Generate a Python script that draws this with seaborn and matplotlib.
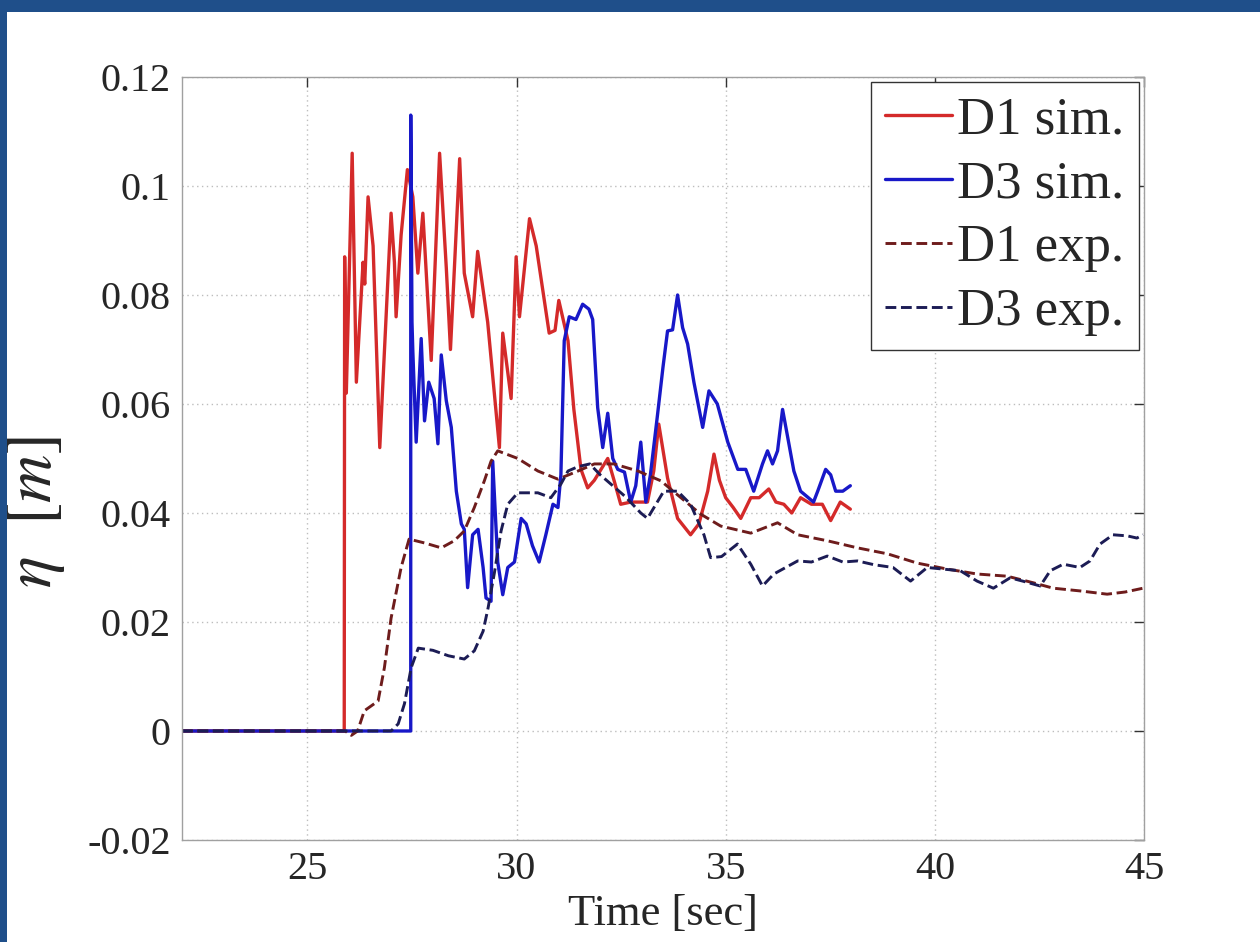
import matplotlib
matplotlib.use("Agg")
import matplotlib.pyplot as plt
import seaborn as sns
import numpy as np
from matplotlib.patches import Rectangle

# ---------------- data ----------------
d1_sim_t = [22.0, 25.88, 25.89, 25.93, 26.07, 26.17, 26.33, 26.37, 26.45, 26.57, 26.73, 27.00, 27.08,
            27.12, 27.24, 27.39, 27.52, 27.64, 27.76, 27.96, 28.16, 28.32, 28.42, 28.64, 28.75, 28.95,
            29.07, 29.31, 29.59, 29.67, 29.87, 29.99, 30.07, 30.31, 30.47, 30.78, 30.92, 31.01, 31.23,
            31.37, 31.54, 31.70, 31.86, 32.02, 32.18, 32.33, 32.49, 32.73, 32.97, 33.13, 33.28, 33.40,
            33.61, 33.85, 34.16, 34.36, 34.57, 34.72, 34.85, 35.00, 35.18, 35.36, 35.60, 35.80, 36.03,
            36.20, 36.39, 36.58, 36.79, 37.05, 37.31, 37.51, 37.74, 37.98]
d1_sim_eta = [0, 0, 0.087, 0.062, 0.106, 0.064, 0.086, 0.082, 0.098, 0.089, 0.052, 0.095, 0.086,
              0.076, 0.091, 0.103, 0.098, 0.084, 0.095, 0.068, 0.106, 0.085, 0.070, 0.105, 0.084, 0.076,
              0.088, 0.075, 0.052, 0.073, 0.061, 0.087, 0.076, 0.094, 0.089, 0.073, 0.0735, 0.079, 0.0716,
              0.059, 0.048, 0.0446, 0.046, 0.048, 0.050, 0.046, 0.0416, 0.042, 0.042, 0.042, 0.0477, 0.0563,
              0.0464, 0.039, 0.036, 0.038, 0.044, 0.0508, 0.046, 0.0428, 0.041, 0.039, 0.0428, 0.0428, 0.0444,
              0.042, 0.0416, 0.040, 0.0428, 0.0416, 0.0416, 0.0386, 0.042, 0.0407]

d3_sim_t = [22.0, 27.47, 27.47, 27.50, 27.52, 27.60, 27.72, 27.80, 27.90, 28.03, 28.12, 28.20, 28.32,
            28.44, 28.56, 28.68, 28.75, 28.83, 28.95, 29.08, 29.20, 29.27, 29.39, 29.43, 29.55, 29.67,
            29.79, 29.95, 30.11, 30.23, 30.38, 30.54, 30.70, 30.87, 30.99, 31.06, 31.14, 31.26, 31.42,
            31.58, 31.73, 31.82, 31.94, 32.06, 32.18, 32.30, 32.42, 32.58, 32.73, 32.85, 32.97, 33.09,
            33.20, 33.37, 33.50, 33.61, 33.73, 33.85, 33.97, 34.09, 34.24, 34.45, 34.60, 34.80, 35.05,
            35.29, 35.48, 35.67, 35.88, 36.00, 36.12, 36.24, 36.36, 36.48, 36.63, 36.79, 37.10, 37.20,
            37.39, 37.51, 37.63, 37.80, 37.98]
d3_sim_eta = [0, 0, 0.113, 0.075, 0.0697, 0.053, 0.072, 0.0569, 0.064, 0.061, 0.0527, 0.069, 0.0606,
              0.0557, 0.044, 0.038, 0.037, 0.0263, 0.036, 0.037, 0.030, 0.0244, 0.0238, 0.0495, 0.031, 0.025,
              0.030, 0.031, 0.039, 0.038, 0.034, 0.031, 0.036, 0.0416, 0.041, 0.047, 0.0716, 0.076, 0.0755,
              0.0783, 0.0774, 0.0755, 0.0593, 0.052, 0.0583, 0.050, 0.048, 0.0475, 0.042, 0.045, 0.053, 0.042,
              0.047, 0.058, 0.0667, 0.0734, 0.0736, 0.080, 0.074, 0.071, 0.064, 0.0557, 0.0624, 0.060, 0.053,
              0.048, 0.048, 0.044, 0.049, 0.0514, 0.049, 0.0514, 0.059, 0.054, 0.0477, 0.044, 0.042, 0.044,
              0.048, 0.047, 0.044, 0.044, 0.045]

d1_exp_t = [22.0, 25.9, 26.05, 26.2, 26.36, 26.69, 26.84, 27.0, 27.24, 27.43, 27.8, 28.2, 28.51, 28.75,
            28.99, 29.23, 29.39, 29.55, 30.03, 30.51, 30.99, 31.47, 31.86, 32.33, 32.90, 33.45, 33.93,
            34.40, 34.88, 35.60, 36.24, 36.72, 37.43, 38.15, 38.87, 39.58, 40.30, 41.01, 41.73, 42.35,
            42.83, 43.47, 44.12, 44.55, 44.98]
d1_exp_eta = [0, 0, -0.0008, 0, 0.0037, 0.0055, 0.0116, 0.0207, 0.030, 0.0352, 0.0345, 0.0336, 0.0349,
              0.0367, 0.041, 0.0459, 0.0495, 0.0514, 0.050, 0.0477, 0.0462, 0.0477, 0.049, 0.049, 0.0477,
              0.0459, 0.0428, 0.0398, 0.0376, 0.0363, 0.0382, 0.036, 0.0349, 0.0336, 0.0325, 0.0308, 0.0297,
              0.0288, 0.0284, 0.0272, 0.0262, 0.0257, 0.0251, 0.0255, 0.0262]

d3_exp_t = [22.0, 27.0, 27.17, 27.32, 27.48, 27.65, 28.0, 28.37, 28.75, 28.99, 29.20, 29.32, 29.47, 29.63,
            29.79, 30.03, 30.51, 30.82, 31.06, 31.23, 31.47, 31.75, 32.0, 32.3, 32.6, 32.97, 33.13, 33.52,
            33.85, 34.16, 34.48, 34.64, 34.90, 35.28, 35.60, 35.88, 36.15, 36.72, 37.05, 37.43, 37.80,
            38.15, 38.55, 39.0, 39.42, 39.82, 40.2, 40.61, 41.01, 41.40, 41.80, 42.1, 42.52, 42.76, 43.07,
            43.47, 43.71, 43.95, 44.26, 44.6, 44.83, 44.98]
d3_exp_eta = [0, 0, 0.0013, 0.005, 0.0116, 0.0152, 0.0148, 0.0138, 0.0132, 0.0147, 0.0183, 0.0226, 0.029,
              0.0367, 0.0416, 0.0437, 0.0437, 0.0428, 0.0453, 0.0477, 0.0485, 0.049, 0.047, 0.045, 0.043,
              0.040, 0.039, 0.044, 0.044, 0.0416, 0.036, 0.0318, 0.032, 0.0343, 0.0306, 0.0266, 0.0288,
              0.0312, 0.031, 0.0321, 0.031, 0.0312, 0.0305, 0.030, 0.0275, 0.030, 0.0297, 0.0294, 0.0275,
              0.0262, 0.0281, 0.0275, 0.0266, 0.0294, 0.0306, 0.030, 0.0312, 0.0343, 0.036, 0.0358, 0.0354,
              0.036]

labels = ["D1 sim.", "D3 sim.", "D1 exp.", "D3 exp."]
x_ticks = [25, 30, 35, 40, 45]
y_ticks = [-0.02, 0, 0.02, 0.04, 0.06, 0.08, 0.1, 0.12]
y_ticklabels = ["-0.02", "0", "0.02", "0.04", "0.06", "0.08", "0.1", "0.12"]

# ---------------- style ----------------
sns.set_style("white")
plt.rcParams["font.family"] = ["Liberation Serif", "DejaVu Serif"]
plt.rcParams["mathtext.fontset"] = "stix"

fig = plt.figure(figsize=(12.6, 9.42), dpi=100)
fig.patch.set_facecolor("white")
ax = fig.add_axes([0.1444, 0.1083, 0.7635, 0.81])

series = [
    (d1_sim_t, d1_sim_eta, "#d42a2a", "-", 2.4),
    (d3_sim_t, d3_sim_eta, "#1818c8", "-", 2.4),
    (d1_exp_t, d1_exp_eta, "#6e1c1c", "--", 2.1),
    (d3_exp_t, d3_exp_eta, "#1c1c55", "--", 2.1),
]
for (t, eta, col, ls, lw), lab in zip(series, labels):
    sns.lineplot(x=t, y=eta, ax=ax, color=col, linestyle=ls, linewidth=lw,
                 estimator=None, sort=False, label=lab)

ax.set_xlim(22, 45)
ax.set_ylim(-0.02, 0.12)
ax.set_xticks(x_ticks)
ax.set_xticklabels([str(v) for v in x_ticks])
ax.set_yticks(y_ticks)
ax.set_yticklabels(y_ticklabels)

ax.grid(True, color="#bdbdbd", linestyle=(0, (1, 2.5)), linewidth=1.0)
for sp in ax.spines.values():
    sp.set_color("#a0a0a0")
    sp.set_linewidth(1.0)
ax.tick_params(direction="in", length=7, width=1.0, color="#333333",
               labelsize=29, top=True, right=True, pad=8)

ax.set_xlabel("Time [sec]", fontsize=32, labelpad=4)
ax.set_ylabel(r"$\eta\ \ [m]$", fontsize=48)
ax.yaxis.set_label_coords(-0.12, 0.43)

leg = ax.legend(loc="upper right", fontsize=38, frameon=True, fancybox=False,
                edgecolor="#333333", framealpha=1.0, handlelength=1.27,
                handletextpad=0.1, labelspacing=0.3, borderpad=0.27,
                borderaxespad=0.1)
leg.get_frame().set_linewidth(1.0)

# dark blue slide frame around the picture
frame_col = "#1f4f8a"
fig.patches.append(Rectangle((0, 1 - 12 / 942), 1, 12 / 942, transform=fig.transFigure,
                             facecolor=frame_col, edgecolor="none", zorder=10))
fig.patches.append(Rectangle((0, 0), 7 / 1260, 1, transform=fig.transFigure,
                             facecolor=frame_col, edgecolor="none", zorder=10))

fig.savefig("out.png", dpi=100)
